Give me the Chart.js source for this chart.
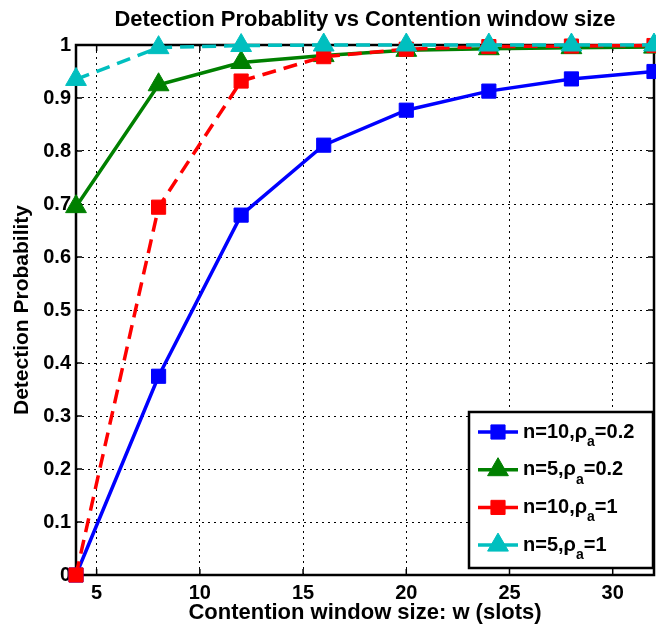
<!DOCTYPE html>
<html>
<head>
<meta charset="utf-8">
<script src="https://cdn.jsdelivr.net/npm/chart.js@4.4.0/dist/chart.umd.min.js"></script>
<style>
  html, body { margin: 0; padding: 0; background: #fff; }
  #wrap { width: 656px; height: 628px; }
</style>
</head>
<body>
<div id="wrap"><canvas id="detChart" width="656" height="628"></canvas></div>
<script>
// contention window sizes (x) and the four detection probability curves
var windowSizes = [4, 8, 12, 16, 20, 24, 28, 32];
var n10rho02 = [0, 0.375, 0.679, 0.811, 0.877, 0.913, 0.936, 0.950];
var n5rho02 = [0.695, 0.925, 0.967, 0.980, 0.990, 0.993, 0.995, 0.996];
var n10rho1 = [0, 0.694, 0.932, 0.978, 0.992, 0.997, 0.998, 0.999];
var n5rho1 = [0.935, 0.995, 0.999, 1.0, 1.0, 1.0, 1.0, 1.0];

var xTicks = [5, 10, 15, 20, 25, 30];
var yTicks = [0, 0.1, 0.2, 0.3, 0.4, 0.5, 0.6, 0.7, 0.8, 0.9, 1];

// legend labels: [before subscript, subscript, after subscript]
var seriesLabels = [
    ["n=10,\u03c1", "a", "=0.2"],
    ["n=5,\u03c1", "a", "=0.2"],
    ["n=10,\u03c1", "a", "=1"],
    ["n=5,\u03c1", "a", "=1"]
];

var titleText = "Detection Probablity vs Contention window size";
var FONT = "'Liberation Sans', Arial, Helvetica, sans-serif";

function toPoints(ys) {
    return windowSizes.map(function (x, i) { return { x: x, y: ys[i] }; });
}

function drawMarker(ctx, style, r, x, y) {
    if (style === 'rect') {
        var s = r * Math.SQRT1_2;
        ctx.rect(x - s, y - s, 2 * s, 2 * s);
    } else {
        ctx.moveTo(x, y - r);
        ctx.lineTo(x + r * Math.sin(2 * Math.PI / 3), y + r / 2);
        ctx.lineTo(x - r * Math.sin(2 * Math.PI / 3), y + r / 2);
        ctx.closePath();
    }
}

/**
 * Title, box, inner ticks and the matlab-ish legend
 */
var decorPlugin = {
    id: 'decor',
    beforeDatasetsDraw: function (chart) {
        var ctx = chart.ctx, a = chart.chartArea;
        var xs = chart.scales.x, ys = chart.scales.y;
        ctx.save();
        ctx.strokeStyle = '#000';
        ctx.lineWidth = 1.5;
        ctx.beginPath();
        xTicks.forEach(function (t) {
            var px = xs.getPixelForValue(t);
            ctx.moveTo(px, a.bottom); ctx.lineTo(px, a.bottom - 6);
            ctx.moveTo(px, a.top); ctx.lineTo(px, a.top + 6);
        });
        yTicks.forEach(function (t) {
            var py = ys.getPixelForValue(t);
            ctx.moveTo(a.left, py); ctx.lineTo(a.left + 6, py);
            ctx.moveTo(a.right, py); ctx.lineTo(a.right - 6, py);
        });
        ctx.stroke();
        ctx.lineWidth = 2.5;
        ctx.strokeRect(a.left, a.top, a.right - a.left, a.bottom - a.top);
        ctx.restore();
    },
    afterDraw: function (chart) {
        var ctx = chart.ctx, a = chart.chartArea;
        ctx.save();
        // title
        ctx.fillStyle = '#000';
        ctx.font = 'bold 22px ' + FONT;
        ctx.textAlign = 'center';
        ctx.textBaseline = 'middle';
        ctx.fillText(titleText, (a.left + a.right) / 2, 20);

        // legend box
        var bw = 184, bh = 156;
        var bx = a.right - 1 - bw, by = a.bottom - 7 - bh;
        ctx.fillStyle = '#fff';
        ctx.fillRect(bx, by, bw, bh);
        ctx.strokeStyle = '#000';
        ctx.lineWidth = 2.5;
        ctx.strokeRect(bx, by, bw, bh);

        chart.data.datasets.forEach(function (ds, i) {
            var cy = by + 20 + i * 37.7;
            var x0 = bx + 9, x1 = bx + 49, mx = (x0 + x1) / 2;
            ctx.strokeStyle = ds.borderColor;
            ctx.lineWidth = ds.borderWidth;
            ctx.beginPath();
            ctx.moveTo(x0, cy); ctx.lineTo(x1, cy);
            ctx.stroke();
            ctx.fillStyle = ds.pointBackgroundColor;
            ctx.strokeStyle = ds.pointBorderColor;
            ctx.lineWidth = 1;
            ctx.beginPath();
            drawMarker(ctx, ds.pointStyle, ds.pointRadius, mx, cy);
            ctx.fill(); ctx.stroke();

            var lab = seriesLabels[i];
            ctx.fillStyle = '#000';
            ctx.textAlign = 'left';
            ctx.textBaseline = 'middle';
            ctx.font = 'bold 20px ' + FONT;
            var tx = x1 + 5;
            ctx.fillText(lab[0], tx, cy);
            tx += ctx.measureText(lab[0]).width;
            ctx.font = 'bold 14px ' + FONT;
            ctx.fillText(lab[1], tx, cy + 10);
            tx += ctx.measureText(lab[1]).width;
            ctx.font = 'bold 20px ' + FONT;
            ctx.fillText(lab[2], tx, cy);
        });
        ctx.restore();
    }
};

function makeDataset(label, ys, color, style, dashed, order) {
    return {
        label: label,
        data: toPoints(ys),
        borderColor: color,
        backgroundColor: color,
        pointBackgroundColor: color,
        pointBorderColor: color,
        pointStyle: style,
        pointRadius: style === 'rect' ? 10 : 12,
        pointBorderWidth: 1,
        borderWidth: 3.5,
        borderDash: dashed ? [14, 8] : [],
        tension: 0,
        clip: false,
        order: order
    };
}

function makeChart() {
    var ctx = document.getElementById('detChart').getContext('2d');
    Chart.defaults.font.family = FONT;
    Chart.defaults.color = '#000';

    new Chart(ctx, {
        type: 'line',
        data: {
            datasets: [
                makeDataset('n=10,ρa=0.2', n10rho02, '#0000ff', 'rect', false, 4),
                makeDataset('n=5,ρa=0.2', n5rho02, '#008000', 'triangle', false, 3),
                makeDataset('n=10,ρa=1', n10rho1, '#ff0000', 'rect', true, 2),
                makeDataset('n=5,ρa=1', n5rho1, '#00bfbf', 'triangle', true, 1)
            ]
        },
        options: {
            responsive: false,
            animation: false,
            devicePixelRatio: 1,
            layout: { autoPadding: false, padding: { left: 0, right: 2, top: 45, bottom: 0 } },
            plugins: {
                legend: { display: false },
                title: { display: false },
                tooltip: { enabled: false }
            },
            scales: {
                x: {
                    type: 'linear',
                    min: 4,
                    max: 32,
                    afterBuildTicks: function (scale) {
                        scale.ticks = xTicks.map(function (v) { return { value: v }; });
                    },
                    afterFit: function (scale) { scale.height = 53; },
                    ticks: {
                        font: { size: 20, weight: 'bold' },
                        padding: 6,
                        maxRotation: 0,
                        color: '#000',
                        callback: function (v) { return String(v); }
                    },
                    grid: { color: '#000', lineWidth: 1, drawTicks: false },
                    border: { display: false, dash: [2, 4] },
                    title: {
                        display: true,
                        text: 'Contention window size: w (slots)',
                        font: { size: 22, weight: 'bold' },
                        padding: { top: 0, bottom: 2 },
                        color: '#000'
                    }
                },
                y: {
                    type: 'linear',
                    min: 0,
                    max: 1,
                    afterBuildTicks: function (scale) {
                        scale.ticks = yTicks.map(function (v) { return { value: v }; });
                    },
                    afterFit: function (scale) { scale.width = 76; },
                    ticks: {
                        font: { size: 20, weight: 'bold' },
                        padding: 5,
                        color: '#000',
                        callback: function (v) { return String(v); }
                    },
                    grid: { color: '#000', lineWidth: 1, drawTicks: false },
                    border: { display: false, dash: [2, 4] },
                    title: {
                        display: true,
                        text: 'Detection Probability',
                        font: { size: 21, weight: 'bold' },
                        padding: { top: 10, bottom: 0 },
                        color: '#000'
                    }
                }
            }
        },
        plugins: [decorPlugin]
    });
}

makeChart();
</script>
</body>
</html>
